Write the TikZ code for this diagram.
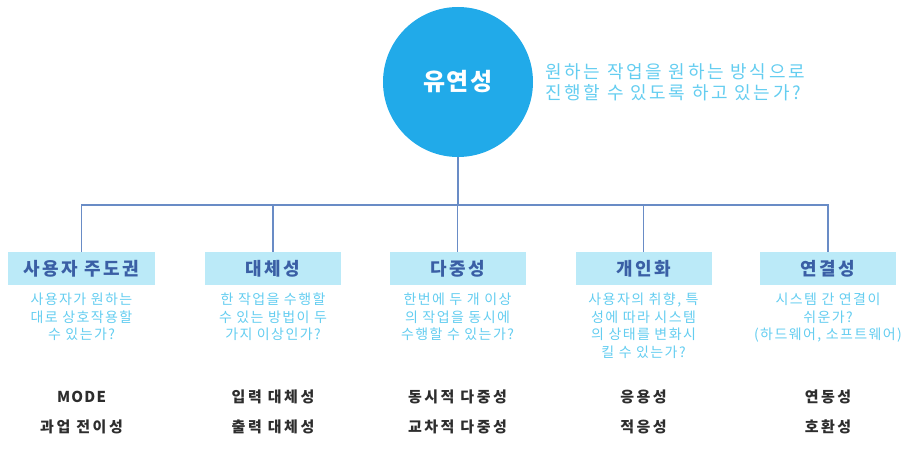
\documentclass[tikz,border=0pt]{standalone}
\usepackage{fontspec}
\setmainfont{Noto Sans CJK KR}
\definecolor{circblue}{RGB}{33,170,233}
\definecolor{boxfill}{RGB}{187,234,248}
\definecolor{titleblue}{RGB}{58,95,165}
\definecolor{desccol}{RGB}{100,205,240}
\definecolor{linecol}{RGB}{105,140,198}
\definecolor{darktext}{RGB}{45,45,45}
\tikzset{
  maincirc/.style={circle,fill=circblue,minimum size=150pt,inner sep=0pt,text=white,font=\fontsize{24}{26}\selectfont\bfseries\addfontfeature{LetterSpace=4}},
  topdesc/.style={anchor=west,align=left,text=desccol,inner sep=0pt,font=\fontsize{18}{21}\selectfont\addfontfeature{LetterSpace=15}},
  catbox/.style={fill=boxfill,minimum width=136pt,minimum height=33pt,inner sep=0pt,text=titleblue,font=\fontsize{18}{20}\selectfont\bfseries\addfontfeature{LetterSpace=13}},
  catdesc/.style={anchor=north,align=center,text=desccol,inner sep=0pt,font=\fontsize{14}{17.5}\selectfont\addfontfeature{LetterSpace=10}},
  subitem/.style={text=darktext,inner sep=0pt,font=\fontsize{15}{17}\selectfont\bfseries\addfontfeature{LetterSpace=17}},
  conn/.style={draw=linecol,line width=1.4pt}
}
\begin{document}
\begin{tikzpicture}[x=1pt,y=1pt]
\useasboundingbox (0,0) rectangle (908,-449);
\node[maincirc] (main) at (458,-82) {유연성};
\node[topdesc] (maindesc) at (545,-82) {원하는 작업을 원하는 방식으로\\진행할 수 있도록 하고 있는가?};
\coordinate (bus) at (458,-205);

\node[catbox,minimum width=147pt] (b1) at (81.5,-268.5) {사용자 주도권};
\node[catbox] (b2) at (273,-268.5) {대체성};
\node[catbox] (b3) at (457.5,-268.5) {다중성};
\node[catbox] (b4) at (643.5,-268.5) {개인화};
\node[catbox] (b5) at (828,-268.5) {연결성};

\draw[conn] (main.south) -- (bus);
\draw[conn] (b1.north) -- (b1.north |- bus) -- (b5.north |- bus) -- (b5.north);
\draw[conn] (b2.north) -- (b2.north |- bus);
\draw[conn] (b3.north) -- (b3.north |- bus);
\draw[conn] (b4.north) -- (b4.north |- bus);

\node[catdesc] (d1) at (81.5,-293) {사용자가 원하는\\대로 상호작용할\\수 있는가?};
\node[catdesc] (d2) at (273,-293) {한 작업을 수행할\\수 있는 방법이 두\\가지 이상인가?};
\node[catdesc] (d3) at (457.5,-293) {한번에 두 개 이상\\의 작업을 동시에\\수행할 수 있는가?};
\node[catdesc] (d4) at (643.5,-293) {사용자의 취향, 특\\성에 따라 시스템\\의 상태를 변화시\\킬 수 있는가?};
\node[catdesc] (d5) at (828,-293) {시스템 간 연결이\\쉬운가?\\(하드웨어, 소프트웨어)};

\node[subitem,font=\fontsize{15}{17}\selectfont\bfseries\addfontfeature{LetterSpace=8}] (s1a) at (81.5,-397) {MODE};
\node[subitem] (s1b) at (81.5,-427) {과업 전이성};
\node[subitem] (s2a) at (273,-397) {입력 대체성};
\node[subitem] (s2b) at (273,-427) {출력 대체성};
\node[subitem] (s3a) at (457.5,-397) {동시적 다중성};
\node[subitem] (s3b) at (457.5,-427) {교차적 다중성};
\node[subitem] (s4a) at (643.5,-397) {응용성};
\node[subitem] (s4b) at (643.5,-427) {적응성};
\node[subitem] (s5a) at (828,-397) {연동성};
\node[subitem] (s5b) at (828,-427) {호환성};
\end{tikzpicture}
\end{document}
